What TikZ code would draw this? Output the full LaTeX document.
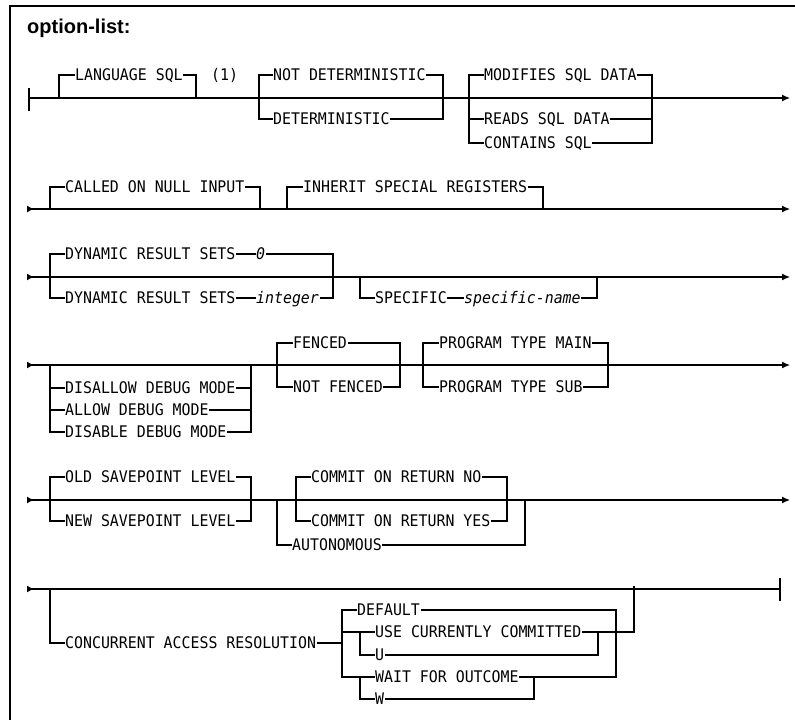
\documentclass[tikz,border=0pt]{standalone}
\usepackage{fontspec}
\setmainfont{Liberation Sans}
\newfontfamily\rrfont[FakeStretch=0.93]{DejaVu Sans Mono}
\usetikzlibrary{arrows.meta}
\begin{document}
\begin{tikzpicture}[x=1pt,y=-1pt,
 rail/.style={line width=1.2pt, line cap=rect},
 vbar/.style={line width=2pt, line cap=rect},
 kw/.style={font=\rrfont\fontsize{16}{16}\selectfont, inner xsep=1pt, inner ysep=0pt, text height=11.5pt, text depth=0pt, anchor=west},
 vartext/.style={kw, font=\rrfont\itshape\fontsize{16}{16}\selectfont},
 endtip/.style={-{Latex[length=8pt,width=7pt]}},
 conttip/.style={{Latex[length=7pt,width=7pt,reversed]}-{Latex[length=8pt,width=7pt]}},
 contstart/.style={{Latex[length=7pt,width=7pt,reversed]}-}]
\useasboundingbox (0,0) rectangle (795,720);
% frame
\draw[line width=1.5pt] (10,720) -- (10,6) -- (795,6);
\node[anchor=base west, font=\bfseries\fontsize{20}{20}\selectfont, inner sep=0pt] (title) at (27,33) {option-list:};

% ---------------- Row 1
\coordinate (r1s) at (29,98); \coordinate (r1e) at (790,98);
\coordinate (b1t) at (29,88); \coordinate (b1b) at (29,111);
\draw[line width=2.6pt] (b1t) -- (b1b);
\draw[rail,endtip] (r1s) -- (r1e);
\node[kw] (lang) at (74,75) {LANGUAGE SQL};
\node[kw] (note1) at (210,75) {(1)};
\node[kw] (notdet) at (272,75) {NOT DETERMINISTIC};
\node[kw] (det) at (272,119) {DETERMINISTIC};
\node[kw] (mod) at (483,75) {MODIFIES SQL DATA};
\node[kw] (reads) at (483,119) {READS SQL DATA};
\node[kw] (cont) at (483,143) {CONTAINS SQL};
\coordinate (a1) at (59,98); \coordinate (a2) at (59,75);
\coordinate (a3) at (196,75); \coordinate (a4) at (196,98);
\draw[vbar] (a1) -- (a2); \draw[rail] (a2) -- (lang) -- (a3); \draw[vbar] (a3) -- (a4);
\coordinate (c1) at (259,75); \coordinate (c2) at (259,119);
\coordinate (c3) at (443,75); \coordinate (c4) at (443,119);
\draw[vbar] (c1) -- (c2); \draw[rail] (c1) -- (notdet) -- (c3);
\draw[rail] (c2) -- (det) -- (c4); \draw[vbar] (c3) -- (c4);
\coordinate (d1) at (469,75); \coordinate (d2) at (469,143); \coordinate (d5) at (469,119);
\coordinate (d3) at (652,75); \coordinate (d4) at (652,143); \coordinate (d6) at (652,119);
\draw[vbar] (d1) -- (d2);
\draw[rail] (d1) -- (mod) -- (d3);
\draw[rail] (d5) -- (reads) -- (d6);
\draw[rail] (d2) -- (cont) -- (d4);
\draw[vbar] (d3) -- (d4);

% ---------------- Row 2
\coordinate (r2s) at (27,209); \coordinate (r2e) at (790,209);
\draw[rail,conttip] (r2s) -- (r2e);
\node[kw] (called) at (64,187) {CALLED ON NULL INPUT};
\node[kw] (inherit) at (302,187) {INHERIT SPECIAL REGISTERS};
\coordinate (e1) at (50,209); \coordinate (e2) at (50,187);
\coordinate (e3) at (260,187); \coordinate (e4) at (260,209);
\draw[vbar] (e1) -- (e2); \draw[rail] (e2) -- (called) -- (e3); \draw[vbar] (e3) -- (e4);
\coordinate (f1) at (287,209); \coordinate (f2) at (287,187);
\coordinate (f3) at (543,187); \coordinate (f4) at (543,209);
\draw[vbar] (f1) -- (f2); \draw[rail] (f2) -- (inherit) -- (f3); \draw[vbar] (f3) -- (f4);

% ---------------- Row 3
\coordinate (r3s) at (27,277); \coordinate (r3e) at (790,277);
\draw[rail,conttip] (r3s) -- (r3e);
\node[kw] (drs0) at (64,254) {DYNAMIC RESULT SETS};
\node[vartext] (zero) at (255,254) {0};
\node[kw] (drsi) at (64,298) {DYNAMIC RESULT SETS};
\node[vartext] (intg) at (255,298) {integer};
\coordinate (g1) at (50,254); \coordinate (g2) at (50,298);
\coordinate (g3) at (333,254); \coordinate (g4) at (333,298);
\draw[vbar] (g1) -- (g2);
\draw[rail] (g1) -- (drs0) -- (zero) -- (g3);
\draw[rail] (g2) -- (drsi) -- (intg) -- (g4);
\draw[vbar] (g3) -- (g4);
\node[kw] (spec) at (374,298) {SPECIFIC};
\node[vartext] (specn) at (463,298) {specific-name};
\coordinate (h1) at (360,277); \coordinate (h2) at (360,298);
\coordinate (h3) at (597,298); \coordinate (h4) at (597,277);
\draw[vbar] (h1) -- (h2); \draw[rail] (h2) -- (spec) -- (specn) -- (h3); \draw[vbar] (h3) -- (h4);

% ---------------- Row 4
\coordinate (r4s) at (27,365); \coordinate (r4e) at (790,365);
\draw[rail,conttip] (r4s) -- (r4e);
\node[kw] (disallow) at (64,388) {DISALLOW DEBUG MODE};
\node[kw] (allow) at (64,410) {ALLOW DEBUG MODE};
\node[kw] (disable) at (64,432) {DISABLE DEBUG MODE};
\coordinate (i1) at (50,365); \coordinate (i2) at (50,432);
\coordinate (i3) at (50,388); \coordinate (i4) at (50,410);
\coordinate (i5) at (251,365); \coordinate (i6) at (251,432);
\coordinate (i7) at (251,388); \coordinate (i8) at (251,410);
\draw[vbar] (i1) -- (i2);
\draw[rail] (i3) -- (disallow) -- (i7);
\draw[rail] (i4) -- (allow) -- (i8);
\draw[rail] (i2) -- (disable) -- (i6);
\draw[vbar] (i5) -- (i6);
\node[kw] (fenced) at (292,343) {FENCED};
\node[kw] (notfenced) at (292,387) {NOT FENCED};
\coordinate (j1) at (277,343); \coordinate (j2) at (277,387);
\coordinate (j3) at (400,343); \coordinate (j4) at (400,387);
\draw[vbar] (j1) -- (j2);
\draw[rail] (j1) -- (fenced) -- (j3);
\draw[rail] (j2) -- (notfenced) -- (j4);
\draw[vbar] (j3) -- (j4);
\node[kw] (ptmain) at (438,343) {PROGRAM TYPE MAIN};
\node[kw] (ptsub) at (438,387) {PROGRAM TYPE SUB};
\coordinate (k1) at (423,343); \coordinate (k2) at (423,387);
\coordinate (k3) at (608,343); \coordinate (k4) at (608,387);
\draw[vbar] (k1) -- (k2);
\draw[rail] (k1) -- (ptmain) -- (k3);
\draw[rail] (k2) -- (ptsub) -- (k4);
\draw[vbar] (k3) -- (k4);

% ---------------- Row 5
\coordinate (r5s) at (27,500); \coordinate (r5e) at (790,500);
\draw[rail,conttip] (r5s) -- (r5e);
\node[kw] (oldsp) at (64,477) {OLD SAVEPOINT LEVEL};
\node[kw] (newsp) at (64,521) {NEW SAVEPOINT LEVEL};
\coordinate (l1) at (50,477); \coordinate (l2) at (50,521);
\coordinate (l3) at (251,477); \coordinate (l4) at (251,521);
\draw[vbar] (l1) -- (l2);
\draw[rail] (l1) -- (oldsp) -- (l3);
\draw[rail] (l2) -- (newsp) -- (l4);
\draw[vbar] (l3) -- (l4);
\node[kw] (crno) at (310,477) {COMMIT ON RETURN NO};
\node[kw] (cryes) at (310,521) {COMMIT ON RETURN YES};
\node[kw] (autonom) at (291,545) {AUTONOMOUS};
\coordinate (m1) at (296,477); \coordinate (m2) at (296,521);
\coordinate (m3) at (507,477); \coordinate (m4) at (507,521);
\draw[vbar] (m1) -- (m2);
\draw[rail] (m1) -- (crno) -- (m3);
\draw[rail] (m2) -- (cryes) -- (m4);
\draw[rail] (m3) -- (m4);
\coordinate (n1) at (277,500); \coordinate (n2) at (277,545);
\coordinate (n3) at (525,545); \coordinate (n4) at (525,500);
\draw[vbar] (n1) -- (n2);
\draw[rail] (n2) -- (autonom) -- (n3);
\draw[vbar] (n3) -- (n4);

% ---------------- Row 6
\coordinate (r6s) at (27,589); \coordinate (r6e) at (780,589);
\draw[rail,contstart] (r6s) -- (r6e);
\coordinate (b6t) at (780,578); \coordinate (b6b) at (780,601);
\draw[line width=2.6pt] (b6t) -- (b6b);
\node[kw] (car) at (64,643) {CONCURRENT ACCESS RESOLUTION};
\coordinate (o1) at (50,589); \coordinate (o2) at (50,643); \coordinate (o3) at (342,643);
\draw[vbar] (o1) -- (o2); \draw[rail] (o2) -- (car) -- (o3);
\coordinate (p1) at (342,610); \coordinate (p2) at (342,677);
\draw[vbar] (p1) -- (p2);
\node[kw] (default) at (356,610) {DEFAULT};
\node[kw] (ucc) at (374,632) {USE CURRENTLY COMMITTED};
\node[kw] (uopt) at (374,655) {U};
\node[kw] (wfo) at (374,677) {WAIT FOR OUTCOME};
\node[kw] (wopt) at (374,699) {W};
\coordinate (q1) at (616,610); \coordinate (q2) at (616,677);
\draw[rail] (p1) -- (default) -- (q1);
\draw[rail] (q1) -- (q2);
\coordinate (s1) at (342,632); \coordinate (s2) at (360,632); \coordinate (s3) at (360,655);
\coordinate (s4) at (598,632); \coordinate (s5) at (598,655);
\coordinate (s6) at (634,632); \coordinate (s7) at (634,587);
\draw[rail] (s1) -- (ucc) -- (s6);
\draw[vbar] (s2) -- (s3);
\draw[rail] (s3) -- (uopt) -- (s5);
\draw[vbar] (s5) -- (s4);
\draw[vbar] (s6) -- (s7);
\coordinate (t1) at (360,677); \coordinate (t2) at (360,699);
\coordinate (t3) at (534,699); \coordinate (t4) at (534,677);
\draw[rail] (p2) -- (wfo) -- (q2);
\draw[vbar] (t1) -- (t2);
\draw[rail] (t2) -- (wopt) -- (t3);
\draw[rail] (t3) -- (t4);
\end{tikzpicture}
\end{document}
